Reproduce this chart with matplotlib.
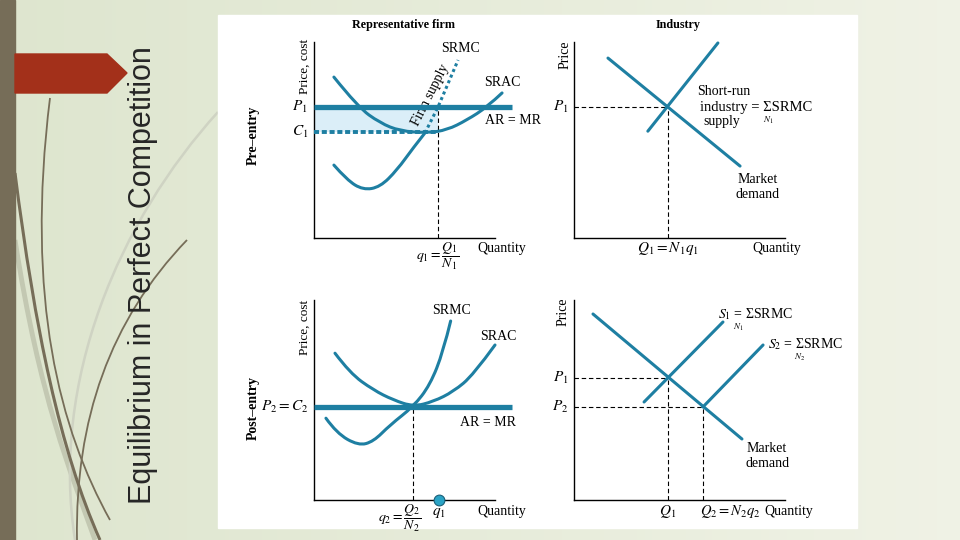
import matplotlib.pyplot as plt
import numpy as np
from matplotlib.patches import Rectangle, Polygon, PathPatch
from matplotlib.path import Path

plt.rcParams['font.family'] = ['Liberation Serif', 'DejaVu Serif']
plt.rcParams['mathtext.fontset'] = 'stix'

# all curves on a 0-10 scale (quantity, price/cost)

# representative firm, pre-entry
firm_p1 = 6.68
firm_c1 = 5.41
firm_q1 = 6.85
firm_mr_end = 10.94
srac1_q = [1.10, 2.43, 3.65, 4.75, 6.24, 7.35, 8.45, 9.56, 10.39]
srac1_c = [8.21, 6.68, 5.87, 5.46, 5.36, 5.51, 6.02, 6.68, 7.40]
srmc1_q = [1.10, 1.82, 2.71, 3.65, 4.59, 5.47, 6.13]
srmc1_c = [3.72, 2.96, 2.45, 2.60, 3.47, 4.59, 5.36]
supply1_q = [6.13, 6.85, 7.96]
supply1_c = [5.36, 6.68, 9.08]

# industry, pre-entry
ind1_p1 = 6.68
ind1_q1 = 4.45
demand1_q = [1.61, 7.87]
demand1_p = [9.18, 3.67]
srs1_q = [3.50, 6.82]
srs1_p = [5.45, 9.95]

# representative firm, post-entry
firm_p2 = 4.65
firm_q2 = 5.47
firm_q1_mark = 6.91
srac2_q = [1.16, 1.99, 3.28, 4.38, 5.49, 6.59, 7.70, 8.80, 10.0]
srac2_c = [7.34, 6.34, 5.50, 5.00, 4.67, 4.92, 5.42, 6.25, 7.75]
srmc2_q = [0.66, 1.25, 2.45, 3.28, 4.20, 5.49, 6.41, 7.14, 7.55]
srmc2_c = [4.09, 3.34, 2.72, 2.92, 3.75, 4.67, 5.75, 7.42, 8.95]

# industry, post-entry
ind2_p1, ind2_q1 = 6.10, 4.45
ind2_p2, ind2_q2 = 4.65, 6.11
demand2_q = [0.90, 7.96]
demand2_p = [9.30, 3.05]
s1_q = [3.32, 7.06]
s1_p = [4.90, 8.90]
s2_q = [6.11, 8.96]
s2_p = [4.65, 7.75]

teal = '#1e7fa2'
shade = '#dbeef8'
W, H = 960, 540

fig = plt.figure(figsize=(9.6, 5.4), dpi=100)

# slide background
bg = fig.add_axes([0, 0, 1, 1])
bg.set_xlim(0, W)
bg.set_ylim(H, 0)
bg.axis('off')
grad = np.linspace(0, 1, 256).reshape(1, -1)
c0 = np.array([0.87, 0.90, 0.81])
c1 = np.array([0.94, 0.95, 0.90])
img = c0 + (c1 - c0) * grad[..., None]
bg.imshow(img, extent=[0, W, H, 0], aspect='auto', zorder=0)

# decorative grass strokes
strokes = [
    ([(15, 240), (40, 400), (70, 470), (95, 540)], '#c3c8b2', 3.5),
    ([(218, 112), (120, 220), (50, 380), (75, 540)], '#cfd3c3', 1.8),
    ([(50, 98), (25, 300), (60, 430), (110, 520)], '#766d58', 1.3),
    ([(15, 173), (35, 330), (60, 450), (100, 540)], '#766d58', 2.2),
    ([(187, 240), (110, 320), (75, 420), (77, 540)], '#766d58', 1.3),
]
for pts, col, lw in strokes:
    path = Path(pts, [Path.MOVETO, Path.CURVE4, Path.CURVE4, Path.CURVE4])
    bg.add_patch(PathPatch(path, fc='none', ec=col, lw=lw, zorder=1))

bg.add_patch(Rectangle((0, 0), 15, H, color='#766d58', zorder=2))
bg.add_patch(Polygon([(15, 54), (107, 54), (127, 73), (107, 93), (15, 93)],
                     closed=True, color='#a3301a', zorder=3))
bg.text(143, 275, 'Equilibrium in Perfect Competition', rotation=90,
        ha='center', va='center', fontsize=22, color='#262626',
        family=['Liberation Sans', 'DejaVu Sans'])
bg.add_patch(Rectangle((218, 15), 639, 513, color='white', zorder=2))


def panel(left, top, w, h):
    ax = fig.add_axes([left / W, (H - top - h) / H, w / W, h / H])
    ax.set_xlim(0, 10)
    ax.set_ylim(0, 10)
    ax.spines['top'].set_visible(False)
    ax.spines['right'].set_visible(False)
    ax.spines['left'].set_linewidth(1.0)
    ax.spines['bottom'].set_linewidth(1.0)
    ax.set_xticks([])
    ax.set_yticks([])
    ax.patch.set_visible(False)
    return ax


def guide(ax, xs, ys):
    ax.plot(xs, ys, color='black', lw=0.8, ls=(0, (4, 2.5)), zorder=2)


def smooth(ax, xs, ys, **kw):
    # quadratic bezier through the read points (points act as control points)
    pts = list(zip(xs, ys))
    verts, codes = [pts[0]], [Path.MOVETO]
    if len(pts) == 2:
        verts.append(pts[1])
        codes.append(Path.LINETO)
    for i in range(1, len(pts) - 1):
        if i == len(pts) - 2:
            end = pts[-1]
        else:
            end = ((pts[i][0] + pts[i + 1][0]) / 2, (pts[i][1] + pts[i + 1][1]) / 2)
        verts += [pts[i], end]
        codes += [Path.CURVE3, Path.CURVE3]
    style = dict(fc='none', ec=teal, lw=2.2, capstyle='round', zorder=4, clip_on=False)
    style.update(kw)
    ax.add_patch(PathPatch(Path(verts, codes), **style))


fs = 10

# ---- top left: representative firm, pre-entry
ax = panel(314, 42, 181, 196)
ax.fill_between([0, firm_q1], firm_c1, firm_p1, color=shade, lw=0, zorder=1)
ax.plot([0, firm_mr_end], [firm_p1, firm_p1], color=teal, lw=3.8, clip_on=False,
        solid_capstyle='butt', zorder=5)
ax.plot([0, firm_q1], [firm_c1, firm_c1], color=teal, lw=2.8, ls=(0, (1.3, 0.7)),
        zorder=5)
guide(ax, [firm_q1, firm_q1], [0, firm_p1])
smooth(ax, srac1_q, srac1_c)
smooth(ax, srmc1_q, srmc1_c)
ax.plot(supply1_q, supply1_c, color=teal, lw=2.2, ls=(0, (1, 1)), clip_on=False, zorder=4)
ax.text(4.92, 10.87, 'Representative firm', ha='center', va='center',
        fontsize=8.7, fontweight='bold', clip_on=False)
ax.text(8.07, 9.69, 'SRMC', ha='center', va='center', fontsize=fs)
ax.text(10.39, 7.91, 'SRAC', ha='center', va='center', fontsize=fs)
ax.text(10.99, 6.02, 'AR = MR', ha='center', va='center', fontsize=fs)
ax.text(6.45, 7.3, 'Firm supply', rotation=63, ha='center', va='center', fontsize=fs)
ax.text(-0.33, firm_p1, '$P_1$', ha='right', va='center', fontsize=11)
ax.text(-0.33, firm_c1, '$C_1$', ha='right', va='center', fontsize=11)
ax.text(-0.5, 8.75, 'Price, cost', rotation=90, ha='center', va='center', fontsize=9.5)
ax.text(-3.37, 5.26, 'Pre–entry', rotation=90, ha='center', va='center',
        fontsize=fs, fontweight='bold')
ax.text(firm_q1, -0.15, r'$q_1 = \dfrac{Q_1}{N_1}$', ha='center', va='top', fontsize=10)
ax.text(10.39, -0.55, 'Quantity', ha='center', va='center', fontsize=fs)

# ---- top right: industry, pre-entry
ax = panel(574, 42, 211, 196)
guide(ax, [0, ind1_q1], [ind1_p1, ind1_p1])
guide(ax, [ind1_q1, ind1_q1], [0, ind1_p1])
smooth(ax, demand1_q, demand1_p)
smooth(ax, srs1_q, srs1_p)
ax.text(4.93, 10.87, 'Industry', ha='center', va='center', fontsize=8.7,
        fontweight='bold', clip_on=False)
ax.text(-0.43, 9.34, 'Price', rotation=90, ha='center', va='center', fontsize=fs)
ax.text(-0.28, ind1_p1, '$P_1$', ha='right', va='center', fontsize=11)
ax.text(5.83, 7.45, 'Short-run', ha='left', va='center', fontsize=fs)
ax.text(5.97, 6.68, 'industry = ΣSRMC', ha='left', va='center', fontsize=10.5)
ax.text(9.2, 5.98, '$N_1$', ha='center', va='center', fontsize=6.5)
ax.text(6.11, 5.95, 'supply', ha='left', va='center', fontsize=fs)
ax.text(8.72, 2.62, 'Market\ndemand', ha='center', va='center', fontsize=fs,
        linespacing=1.2)
ax.text(ind1_q1, -0.55, r'$Q_1 = N_1q_1$', ha='center', va='center', fontsize=11)
ax.text(9.62, -0.55, 'Quantity', ha='center', va='center', fontsize=fs)

# ---- bottom left: representative firm, post-entry
ax = panel(314, 300, 181, 200)
ax.plot([0, firm_mr_end], [firm_p2, firm_p2], color=teal, lw=3.8, clip_on=False,
        solid_capstyle='butt', zorder=5)
guide(ax, [firm_q2, firm_q2], [0, firm_p2])
smooth(ax, srac2_q, srac2_c)
smooth(ax, srmc2_q, srmc2_c)
ax.scatter([firm_q1_mark], [0], s=60, color='#2aa3c5', edgecolor='#1a5f78',
           lw=0.8, zorder=6, clip_on=False)
ax.text(7.62, 9.5, 'SRMC', ha='center', va='center', fontsize=fs)
ax.text(10.17, 8.15, 'SRAC', ha='center', va='center', fontsize=fs)
ax.text(9.61, 3.9, 'AR = MR', ha='center', va='center', fontsize=fs)
ax.text(-0.33, firm_p2, '$P_2 = C_2$', ha='right', va='center', fontsize=11)
ax.text(-0.5, 8.65, 'Price, cost', rotation=90, ha='center', va='center', fontsize=9.5)
ax.text(-3.37, 4.6, 'Post–entry', rotation=90, ha='center', va='center',
        fontsize=fs, fontweight='bold')
ax.text(4.75, -0.15, r'$q_2 = \dfrac{Q_2}{N_2}$', ha='center', va='top', fontsize=10)
ax.text(firm_q1_mark, -0.65, '$q_1$', ha='center', va='center', fontsize=11)
ax.text(10.39, -0.6, 'Quantity', ha='center', va='center', fontsize=fs)

# ---- bottom right: industry, post-entry
ax = panel(574, 300, 211, 200)
guide(ax, [0, ind2_q1], [ind2_p1, ind2_p1])
guide(ax, [ind2_q1, ind2_q1], [0, ind2_p1])
guide(ax, [0, ind2_q2], [ind2_p2, ind2_p2])
guide(ax, [ind2_q2, ind2_q2], [0, ind2_p2])
smooth(ax, demand2_q, demand2_p)
smooth(ax, s1_q, s1_p)
smooth(ax, s2_q, s2_p)
ax.text(-0.52, 9.4, 'Price', rotation=90, ha='center', va='center', fontsize=fs)
ax.text(-0.28, ind2_p1, '$P_1$', ha='right', va='center', fontsize=11)
ax.text(-0.28, ind2_p2, '$P_2$', ha='right', va='center', fontsize=11)
ax.text(6.82, 9.3, '$S_1$ = ΣSRMC', ha='left', va='center', fontsize=fs, clip_on=False)
ax.text(7.8, 8.62, '$N_1$', ha='center', va='center', fontsize=6.5, clip_on=False)
ax.text(9.19, 7.8, '$S_2$ = ΣSRMC', ha='left', va='center', fontsize=fs, clip_on=False)
ax.text(10.68, 7.12, '$N_2$', ha='center', va='center', fontsize=6.5, clip_on=False)
ax.text(9.15, 2.2, 'Market\ndemand', ha='center', va='center', fontsize=fs,
        linespacing=1.2)
ax.text(ind2_q1, -0.6, '$Q_1$', ha='center', va='center', fontsize=11)
ax.text(5.97, -0.6, '$Q_2 = N_2q_2$', ha='left', va='center', fontsize=10.5)
ax.text(9.0, -0.6, 'Quantity', ha='left', va='center', fontsize=fs)

fig.savefig('out.png', dpi=100)
